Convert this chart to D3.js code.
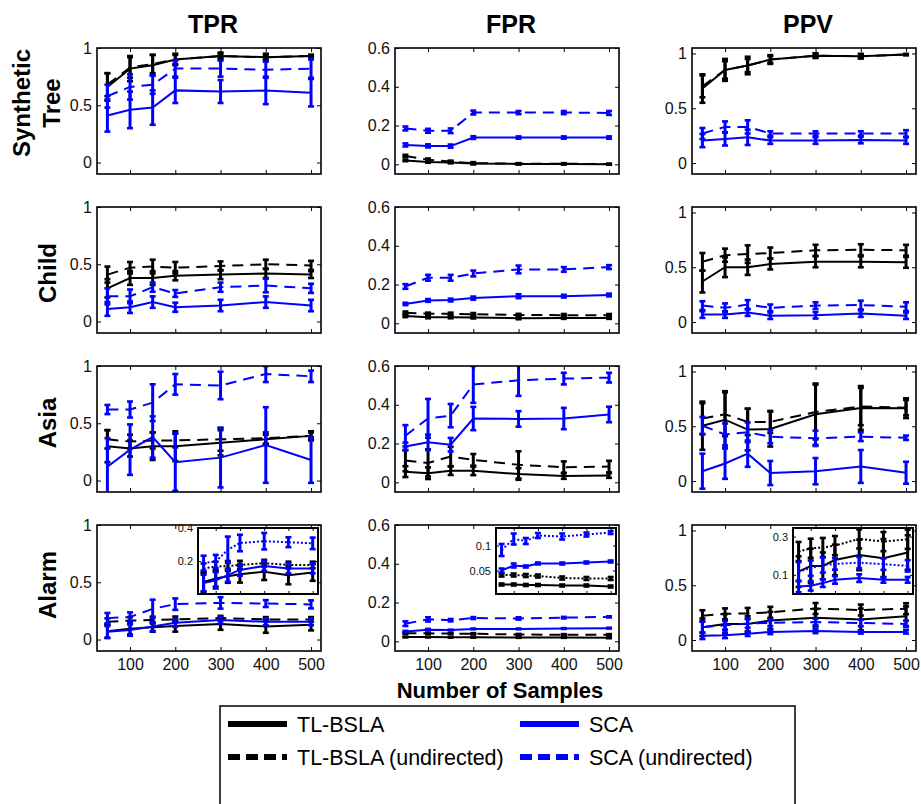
<!DOCTYPE html>
<html><head><meta charset="utf-8">
<script src="https://cdn.jsdelivr.net/npm/d3@7"></script>
<style>body{margin:0;background:#fff;} svg{display:block;}</style>
</head><body><svg id="c" width="921" height="804"></svg>
<script>
// ---------------- DATA ----------------
const samples = [50, 100, 150, 200, 300, 400, 500];
const xTickValues = [100, 200, 300, 400, 500];
const metrics = ["TPR", "FPR", "PPV"];
const networks = [["Synthetic", "Tree"], ["Child"], ["Asia"], ["Alarm"]];
const seriesNames = ["TL-BSLA", "TL-BSLA (undirected)", "SCA", "SCA (undirected)"];
const yTicksTPR = [0, 0.5, 1];
const yTicksFPR = [0, 0.2, 0.4, 0.6];
const yTicksPPV = [0, 0.5, 1];
const insetTicksTPR = [0.2, 0.4];
const insetTicksFPR = [0.05, 0.1];
const insetTicksPPV = [0.1, 0.3];

// order in each: TL-BSLA, TL-BSLA (undirected), SCA, SCA (undirected)
const treeTPR = [[0.66,0.82,0.85,0.90,0.93,0.92,0.93],[0.68,0.83,0.86,0.90,0.93,0.92,0.93],[0.41,0.46,0.48,0.63,0.62,0.63,0.61],[0.58,0.66,0.68,0.82,0.82,0.81,0.82]];
const treeTPRerr = [[0.12,0.11,0.09,0.05,0.03,0.03,0.01],[0.1,0.09,0.08,0.04,0.02,0.02,0.01],[0.14,0.16,0.15,0.11,0.1,0.12,0.12],[0.1,0.11,0.08,0.07,0.07,0.07,0.08]];
const treeFPR = [[0.02,0.012,0.009,0.004,0.002,0.002,0.0],[0.043,0.024,0.014,0.006,0.003,0.003,0.001],[0.10,0.095,0.094,0.138,0.138,0.138,0.138],[0.185,0.173,0.173,0.267,0.267,0.267,0.265]];
const treeFPRerr = [[0.004,0.004,0.004,0.004,0.003,0.003,0.002],[0.006,0.006,0.005,0.005,0.003,0.003,0.002],[0.008,0.008,0.008,0.007,0.006,0.006,0.006],[0.01,0.01,0.012,0.01,0.008,0.008,0.01]];
const treePPV = [[0.68,0.85,0.89,0.945,0.98,0.975,0.99],[0.70,0.85,0.89,0.945,0.98,0.975,0.99],[0.205,0.22,0.235,0.205,0.205,0.21,0.205],[0.27,0.33,0.33,0.27,0.27,0.27,0.27]];
const treePPVerr = [[0.13,0.1,0.08,0.04,0.02,0.02,0.005],[0.1,0.08,0.06,0.03,0.02,0.02,0.005],[0.06,0.06,0.07,0.03,0.03,0.03,0.03],[0.05,0.05,0.06,0.02,0.02,0.02,0.03]];

const childTPR = [[0.29,0.38,0.38,0.40,0.41,0.42,0.41],[0.41,0.47,0.48,0.47,0.485,0.50,0.49],[0.11,0.125,0.17,0.125,0.14,0.17,0.14],[0.22,0.22,0.30,0.245,0.30,0.315,0.29]];
const childTPRerr = [[0.08,0.06,0.06,0.04,0.04,0.04,0.03],[0.07,0.05,0.06,0.05,0.04,0.04,0.04],[0.06,0.05,0.05,0.04,0.05,0.05,0.05],[0.07,0.06,0.04,0.03,0.04,0.06,0.04]];
const childFPR = [[0.038,0.031,0.031,0.03,0.026,0.028,0.028],[0.055,0.049,0.049,0.047,0.043,0.042,0.042],[0.10,0.118,0.12,0.13,0.14,0.14,0.146],[0.19,0.235,0.235,0.257,0.278,0.278,0.29]];
const childFPRerr = [[0.006,0.005,0.005,0.005,0.005,0.005,0.005],[0.006,0.006,0.006,0.006,0.006,0.006,0.006],[0.006,0.007,0.007,0.008,0.01,0.007,0.007],[0.012,0.015,0.015,0.015,0.02,0.012,0.01]];
const childPPV = [[0.37,0.50,0.50,0.53,0.55,0.55,0.545],[0.55,0.61,0.62,0.63,0.655,0.66,0.655],[0.068,0.068,0.086,0.058,0.062,0.077,0.058],[0.15,0.13,0.16,0.13,0.15,0.155,0.14]];
const childPPVerr = [[0.1,0.09,0.07,0.05,0.05,0.05,0.05],[0.08,0.06,0.08,0.05,0.05,0.05,0.05],[0.03,0.03,0.03,0.03,0.03,0.03,0.03],[0.04,0.04,0.04,0.03,0.03,0.04,0.04]];

const asiaTPR = [[0.30,0.28,0.30,0.30,0.33,0.36,0.39],[0.36,0.34,0.35,0.35,0.36,0.37,0.39],[0.12,0.27,0.38,0.16,0.20,0.31,0.18],[0.62,0.62,0.68,0.84,0.83,0.93,0.91]];
const asiaTPRerr = [[0.14,0.07,0.12,0.13,0.11,0.04,0.04],[0.08,0.06,0.07,0.06,0.1,0.05,0.03],[0.25,0.22,0.18,0.25,0.26,0.33,0.2],[0.04,0.07,0.16,0.09,0.12,0.07,0.05]];
const asiaFPR = [[0.055,0.047,0.06,0.059,0.043,0.033,0.035],[0.112,0.10,0.133,0.116,0.09,0.078,0.081],[0.185,0.206,0.194,0.329,0.327,0.329,0.35],[0.24,0.33,0.344,0.505,0.526,0.535,0.54]];
const asiaFPRerr = [[0.028,0.03,0.022,0.022,0.03,0.015,0.012],[0.055,0.07,0.05,0.03,0.07,0.03,0.03],[0.02,0.04,0.035,0.06,0.04,0.055,0.04],[0.055,0.1,0.06,0.095,0.08,0.03,0.025]];
const asiaPPV = [[0.505,0.56,0.47,0.475,0.61,0.667,0.665],[0.57,0.61,0.54,0.54,0.63,0.68,0.67],[0.09,0.16,0.25,0.073,0.09,0.133,0.076],[0.505,0.425,0.445,0.405,0.39,0.405,0.395]];
const asiaPPVerr = [[0.22,0.26,0.19,0.16,0.28,0.2,0.09],[0.14,0.2,0.12,0.1,0.25,0.17,0.07],[0.16,0.14,0.12,0.11,0.12,0.15,0.1],[0.08,0.1,0.09,0.06,0.07,0.04,0.02]];

const alarmTPR = [[0.073,0.094,0.108,0.119,0.135,0.114,0.130],[0.155,0.166,0.170,0.176,0.187,0.176,0.176],[0.067,0.083,0.114,0.146,0.170,0.155,0.155],[0.187,0.197,0.268,0.309,0.320,0.314,0.307]];
const alarmTPRerr = [[0.06,0.05,0.04,0.05,0.05,0.055,0.05],[0.03,0.03,0.03,0.025,0.02,0.02,0.02],[0.05,0.05,0.04,0.035,0.03,0.03,0.03],[0.045,0.04,0.08,0.05,0.05,0.03,0.035]];
const alarmFPR = [[0.022,0.022,0.021,0.021,0.02,0.02,0.018],[0.041,0.041,0.04,0.039,0.035,0.034,0.034],[0.05,0.06,0.058,0.064,0.064,0.066,0.068],[0.091,0.113,0.109,0.12,0.118,0.122,0.126]];
const alarmFPRerr = [[0.002,0.002,0.002,0.002,0.002,0.002,0.002],[0.003,0.003,0.003,0.003,0.003,0.003,0.003],[0.004,0.004,0.002,0.002,0.002,0.002,0.002],[0.012,0.011,0.006,0.005,0.006,0.004,0.003]];
const alarmPPV = [[0.117,0.147,0.147,0.178,0.204,0.187,0.217],[0.222,0.239,0.243,0.253,0.288,0.274,0.286],[0.039,0.043,0.057,0.074,0.083,0.074,0.074],[0.117,0.135,0.152,0.157,0.164,0.156,0.147]];
const alarmPPVerr = [[0.08,0.09,0.07,0.08,0.08,0.1,0.09],[0.05,0.05,0.05,0.05,0.05,0.05,0.05],[0.03,0.025,0.02,0.02,0.02,0.015,0.015],[0.05,0.04,0.04,0.03,0.03,0.03,0.03]];

// ---------------- LAYOUT / STYLE ----------------
const panelData = [
  [[treeTPR, treeTPRerr], [treeFPR, treeFPRerr], [treePPV, treePPVerr]],
  [[childTPR, childTPRerr], [childFPR, childFPRerr], [childPPV, childPPVerr]],
  [[asiaTPR, asiaTPRerr], [asiaFPR, asiaFPRerr], [asiaPPV, asiaPPVerr]],
  [[alarmTPR, alarmTPRerr], [alarmFPR, alarmFPRerr], [alarmPPV, alarmPPVerr]]
];
const yDomains = [[-0.1, 1], [-0.05, 0.6], [-0.1, 1.05]];
const yTickSets = [yTicksTPR, yTicksFPR, yTicksPPV];
const insetDomains = [[0, 0.4], [0.003, 0.135], [0, 0.345]];
const insetTickSets = [insetTicksTPR, insetTicksFPR, insetTicksPPV];

const colX = [97, 395, 692], colW = 224;
const rowY = [48, 207, 366, 525], rowH = 126;
const BLUE = "#0000ff";
const colors = ["#000", "#000", BLUE, BLUE];
const FONT = "'Liberation Sans', Arial, sans-serif";

const svg = d3.select("#c");
svg.append("rect").attr("width", 921).attr("height", 804).attr("fill", "#fff");

let clipId = 0;
function drawSeriesSet(g, x, y, vals, errs, undirDash, lineW) {
  vals.forEach((series, s) => {
    const col = colors[s];
    const line = d3.line().x((d, i) => x(samples[i])).y(d => y(d));
    g.append("path").attr("d", line(series)).attr("fill", "none")
      .attr("stroke", col).attr("stroke-width", lineW)
      .attr("stroke-dasharray", (s % 2 === 1) ? undirDash : null);
    series.forEach((v, i) => {
      const cx = x(samples[i]);
      const e = errs[s][i];
      const y0 = y(v - e), y1 = y(v + e);
      g.append("line").attr("x1", cx).attr("x2", cx).attr("y1", y0).attr("y2", y1)
        .attr("stroke", col).attr("stroke-width", 3);
      [y0, y1].forEach(yy => g.append("line").attr("x1", cx - 3).attr("x2", cx + 3)
        .attr("y1", yy).attr("y2", yy).attr("stroke", col).attr("stroke-width", 2.6));
    });
  });
}

function drawAxes(g, x, y, w, h, yTicks, showX, yFmt, fontSize, tickLen) {
  const xb = g.append("g").attr("transform", `translate(0,${h})`)
    .call(d3.axisBottom(x).tickValues(xTickValues).tickSizeInner(-tickLen).tickSizeOuter(0).tickPadding(8)
      .tickFormat(showX ? d3.format("d") : ""));
  const xt = g.append("g")
    .call(d3.axisTop(x).tickValues(xTickValues).tickSizeInner(-tickLen).tickSizeOuter(0).tickFormat(""));
  const yl = g.append("g")
    .call(d3.axisLeft(y).tickValues(yTicks).tickSizeInner(-tickLen).tickSizeOuter(0).tickPadding(5).tickFormat(yFmt));
  const yr = g.append("g").attr("transform", `translate(${w},0)`)
    .call(d3.axisRight(y).tickValues(yTicks).tickSizeInner(-tickLen).tickSizeOuter(0).tickFormat(""));
  [xb, xt, yl, yr].forEach(a => {
    a.select(".domain").remove();
    a.selectAll(".tick line").attr("stroke", "#000").attr("stroke-width", 1);
    a.selectAll("text").attr("font-family", FONT).attr("font-size", fontSize).attr("fill", "#111");
  });
  g.append("rect").attr("class", "frame").attr("width", w).attr("height", h).attr("fill", "none")
    .attr("stroke", "#000").attr("stroke-width", 1.6);
}

const yFmt = d => String(d);

for (let r = 0; r < 4; r++) {
  for (let c = 0; c < 3; c++) {
    const g = svg.append("g").attr("transform", `translate(${colX[c]},${rowY[r]})`);
    const x = d3.scaleLinear().domain([27, 522]).range([0, colW]);
    const y = d3.scaleLinear().domain(yDomains[c]).range([rowH, 0]);
    const id = "clip" + (clipId++);
    g.append("clipPath").attr("id", id).append("rect").attr("width", colW).attr("height", rowH);
    g.append("rect").attr("width", colW).attr("height", rowH).attr("fill", "#fff");
    const [vals, errs] = panelData[r][c];
    const inner = g.append("g").attr("clip-path", `url(#${id})`);
    drawSeriesSet(inner, x, y, vals, errs, "11,7", 2);
    drawAxes(g, x, y, colW, rowH, yTickSets[c], r === 3, yFmt, 16, 4);

    if (r === 3) {
      // inset
      const iw = 120, ih = 66;
      const ix = colW - 3 - iw, iy = 3;
      const ig = g.append("g").attr("transform", `translate(${ix},${iy})`);
      ig.append("rect").attr("width", iw).attr("height", ih).attr("fill", "#fff");
      const xi = d3.scaleLinear().domain([27, 522]).range([0, iw]);
      const yi = d3.scaleLinear().domain(insetDomains[c]).range([ih, 0]);
      const iid = "clip" + (clipId++);
      ig.append("clipPath").attr("id", iid).append("rect").attr("width", iw).attr("height", ih);
      const iinner = ig.append("g").attr("clip-path", `url(#${iid})`);
      drawSeriesSet(iinner, xi, yi, vals, errs, "2,2", 2);
      drawAxes(ig, xi, yi, iw, ih, insetTickSets[c], false, d => String(d), 11, 3);
      ig.select("rect.frame").attr("stroke-width", 2);
    }
  }
}

// column titles
metrics.forEach((m, c) => {
  svg.append("text").attr("x", colX[c] + colW / 2 + 4).attr("y", 33)
    .attr("text-anchor", "middle").attr("font-family", FONT).attr("font-weight", "bold")
    .attr("font-size", 25).text(m);
});

// row labels
const rowLabelCenters = [103, 273, 423, 585];
networks.forEach((lines, r) => {
  const baseXs = lines.length === 2 ? [30, 60] : [56];
  lines.forEach((t, k) => {
    svg.append("text").attr("transform", `translate(${baseXs[k]},${rowLabelCenters[r]}) rotate(-90)`)
      .attr("text-anchor", "middle").attr("font-family", FONT).attr("font-weight", "bold")
      .attr("font-size", 24).text(t);
  });
});

// x-axis label
svg.append("text").attr("x", 500).attr("y", 698).attr("text-anchor", "middle")
  .attr("font-family", FONT).attr("font-weight", "bold").attr("font-size", 22).text("Number of Samples");

// legend
const lg = svg.append("g");
lg.append("rect").attr("x", 220).attr("y", 706).attr("width", 575).attr("height", 110)
  .attr("fill", "#fff").attr("stroke", "#000").attr("stroke-width", 1.5);
const legendPos = [[228, 724], [228, 757], [520, 724], [520, 757]];
seriesNames.forEach((name, s) => {
  const [lx, ly] = legendPos[s];
  lg.append("line").attr("x1", lx).attr("x2", lx + 59).attr("y1", ly).attr("y2", ly)
    .attr("stroke", colors[s]).attr("stroke-width", 6)
    .attr("stroke-dasharray", s % 2 === 1 ? "12,6" : null);
  lg.append("text").attr("x", lx + 69).attr("y", ly + 7.5).attr("font-family", FONT)
    .attr("font-size", 21.5).text(name);
});
</script></body></html>
